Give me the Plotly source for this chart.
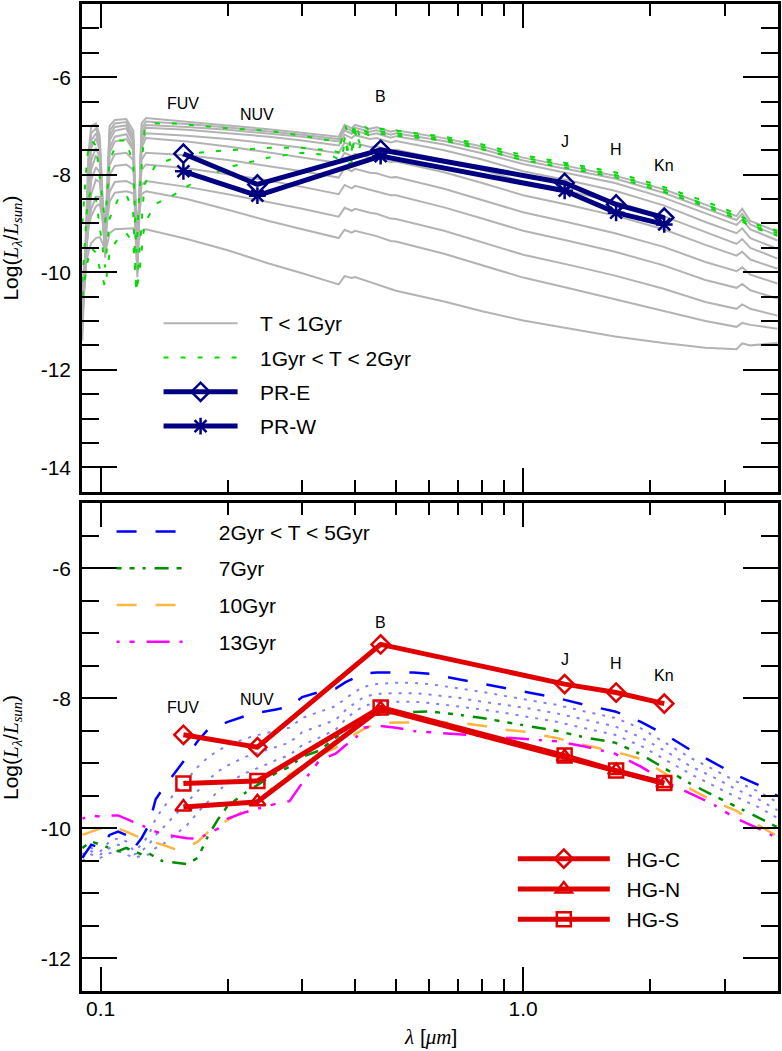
import math
import plotly.graph_objects as go
from plotly.subplots import make_subplots

# ---------------- top panel: young SSP spectra ----------------
gray_wave = [0.0905, 0.092, 0.0935, 0.095, 0.0975, 0.0995, 0.101, 0.1025, 0.1035, 0.105,
             0.108, 0.115, 0.1195, 0.121, 0.1222, 0.1235, 0.125, 0.128, 0.16, 0.20,
             0.25, 0.30, 0.366, 0.378, 0.393, 0.40, 0.434, 0.45, 0.486, 0.50,
             0.65, 0.80, 1.0, 1.3, 1.65, 2.15, 2.7, 3.2, 3.3, 3.45, 4.0]

gray_01 = [-11.4, -9.6, -7.6, -7.0, -6.95, -7.2, -8.4, -9.2, -8.3, -7.0, -6.88, -6.86, -7.1, -8.8, -9.6, -8.3, -6.95, -6.84,
           -6.91, -6.99, -7.07, -7.14, -7.22, -6.98, -7.05, -6.98, -7.06, -7.03, -7.12, -7.09, -7.25, -7.42, -7.65,
           -7.84, -8.02, -8.30, -8.62, -8.85, -8.70, -8.95, -9.17]
gray_02 = [-11.2, -9.8, -7.9, -7.15, -7.05, -7.3, -8.6, -9.4, -8.5, -7.1, -6.95, -6.92, -7.2, -9.0, -9.8, -8.5, -7.05, -6.91,
           -6.96, -7.03, -7.11, -7.18, -7.27, -7.03, -7.10, -7.04, -7.12, -7.09, -7.18, -7.15, -7.31, -7.48, -7.71,
           -7.90, -8.08, -8.37, -8.70, -8.93, -8.80, -9.02, -9.25]
gray_03 = [-11.0, -9.9, -8.1, -7.3, -7.15, -7.4, -8.7, -9.5, -8.7, -7.2, -7.02, -6.99, -7.3, -9.1, -9.9, -8.7, -7.15, -6.98,
           -7.02, -7.08, -7.15, -7.22, -7.32, -7.09, -7.16, -7.10, -7.18, -7.15, -7.24, -7.21, -7.38, -7.56, -7.78,
           -7.98, -8.17, -8.47, -8.80, -9.03, -8.92, -9.12, -9.35]
gray_04 = [-10.9, -10.0, -8.3, -7.45, -7.25, -7.5, -8.8, -9.6, -8.8, -7.3, -7.1, -7.05, -7.35, -9.2, -10.0, -8.8, -7.25, -7.04,
           -7.08, -7.15, -7.22, -7.30, -7.40, -7.18, -7.25, -7.19, -7.27, -7.25, -7.34, -7.31, -7.50, -7.69, -7.93,
           -8.13, -8.33, -8.63, -8.97, -9.20, -9.10, -9.30, -9.52]
gray_05 = [-10.8, -10.1, -8.6, -7.7, -7.45, -7.65, -8.9, -9.7, -8.9, -7.45, -7.22, -7.17, -7.45, -9.3, -10.1, -8.9, -7.35, -7.15,
           -7.20, -7.27, -7.36, -7.45, -7.56, -7.34, -7.41, -7.35, -7.43, -7.42, -7.51, -7.49, -7.70, -7.90, -8.15,
           -8.35, -8.56, -8.85, -9.18, -9.42, -9.32, -9.50, -9.72]
gray_06 = [-10.7, -10.0, -8.8, -7.9, -7.6, -7.75, -8.8, -9.5, -8.8, -7.55, -7.32, -7.27, -7.5, -9.0, -9.7, -8.7, -7.45, -7.25,
           -7.32, -7.42, -7.54, -7.64, -7.76, -7.55, -7.62, -7.57, -7.65, -7.65, -7.74, -7.73, -7.95, -8.17, -8.42,
           -8.63, -8.84, -9.12, -9.44, -9.66, -9.58, -9.74, -9.93]
gray_07 = [-10.6, -9.9, -8.9, -8.1, -7.85, -7.95, -8.7, -9.3, -8.8, -7.8, -7.58, -7.55, -7.7, -8.8, -9.3, -8.6, -7.7, -7.55,
           -7.60, -7.70, -7.82, -7.93, -8.06, -7.86, -7.93, -7.88, -7.96, -7.97, -8.06, -8.05, -8.29, -8.52, -8.77,
           -8.99, -9.20, -9.48, -9.79, -9.98, -9.90, -10.05, -10.23]
gray_08 = [-10.5, -9.8, -9.0, -8.4, -8.1, -8.15, -8.7, -9.2, -8.8, -8.0, -7.82, -7.79, -7.9, -8.7, -9.1, -8.6, -7.9, -7.79,
           -7.87, -7.99, -8.12, -8.25, -8.40, -8.21, -8.28, -8.23, -8.31, -8.33, -8.42, -8.42, -8.67, -8.90, -9.15,
           -9.37, -9.58, -9.86, -10.16, -10.32, -10.24, -10.37, -10.54]
gray_09 = [-10.4, -9.7, -9.1, -8.7, -8.45, -8.45, -8.8, -9.2, -8.9, -8.35, -8.15, -8.13, -8.2, -8.7, -9.0, -8.7, -8.2, -8.13,
           -8.25, -8.40, -8.56, -8.70, -8.86, -8.68, -8.74, -8.70, -8.78, -8.80, -8.90, -8.91, -9.15, -9.39, -9.64,
           -9.86, -10.07, -10.34, -10.61, -10.75, -10.66, -10.75, -10.89]
gray_10 = [-10.3, -9.6, -9.1, -8.85, -8.65, -8.6, -8.9, -9.2, -9.0, -8.55, -8.37, -8.34, -8.38, -8.8, -9.0, -8.8, -8.4, -8.34,
           -8.50, -8.72, -8.95, -9.12, -9.30, -9.13, -9.19, -9.15, -9.23, -9.26, -9.36, -9.37, -9.62, -9.86, -10.11,
           -10.34, -10.56, -10.80, -11.00, -11.12, -11.04, -11.08, -11.16]
gray_11 = [-10.6, -9.9, -9.6, -9.4, -9.3, -9.28, -9.4, -9.55, -9.45, -9.2, -9.12, -9.1, -9.1, -9.3, -9.4, -9.3, -9.15, -9.12,
           -9.32, -9.55, -9.82, -10.02, -10.25, -10.08, -10.12, -10.10, -10.20, -10.25, -10.35, -10.38, -10.60, -10.80, -10.99,
           -11.17, -11.32, -11.45, -11.55, -11.58, -11.46, -11.50, -11.45]

green_wave = [0.0905, 0.093, 0.095, 0.0975, 0.100, 0.1025, 0.105, 0.110, 0.115, 0.1195,
              0.1215, 0.1235, 0.127, 0.135, 0.15, 0.17, 0.20, 0.25, 0.30, 0.35,
              0.37, 0.38, 0.39, 0.395, 0.40, 0.41, 0.42, 0.434, 0.45, 0.50,
              0.65, 0.80, 1.0, 1.3, 1.65, 2.15, 2.7, 3.2, 3.5, 4.0]
green_a = [-9.0, -7.6, -7.3, -7.4, -8.2, -9.0, -7.7, -7.3, -7.3, -7.8, -9.6, -8.4, -7.1, -6.95, -6.95, -7.0, -7.05, -7.1,
           -7.2, -7.3, -7.35, -7.0, -7.4, -7.1, -6.95, -7.2, -7.0, -7.1, -7.05, -7.1, -7.22, -7.38, -7.6, -7.78, -7.95,
           -8.25, -8.55, -8.8, -9.0, -9.15]
green_b = [-10.2, -8.6, -8.3, -8.5, -9.2, -9.9, -8.9, -8.5, -8.4, -8.8, -10.4, -9.6, -8.2, -7.8, -7.65, -7.55, -7.5, -7.45,
           -7.45, -7.5, -7.55, -7.2, -7.8, -7.3, -7.05, -7.35, -7.1, -7.15, -7.1, -7.15, -7.27, -7.43, -7.65, -7.82, -8.0,
           -8.3, -8.62, -8.85, -9.05, -9.2]
green_c = [-10.5, -9.8, -9.5, -9.6, -10.0, -10.3, -9.6, -9.3, -9.2, -9.4, -10.4, -10.0, -9.0, -8.6, -8.4, -8.1, -7.85, -7.65,
           -7.55, -7.6, -7.7, -7.3, -7.95, -7.5, -7.1, -7.45, -7.15, -7.2, -7.15, -7.2, -7.3, -7.48, -7.7, -7.88, -8.05,
           -8.35, -8.65, -8.9, -9.08, -9.25]

# ---------------- bottom panel: old SSP spectra ----------------
sed_wave = [0.0905, 0.095, 0.10, 0.105, 0.11, 0.115, 0.12, 0.125, 0.13, 0.135,
            0.14, 0.15, 0.16, 0.17, 0.18, 0.19, 0.20, 0.22, 0.24, 0.26,
            0.28, 0.30, 0.33, 0.36, 0.38, 0.40, 0.42, 0.45, 0.50, 0.55,
            0.60, 0.70, 0.80, 0.90, 1.0, 1.2, 1.4, 1.65, 1.9, 2.2,
            2.5, 2.8, 3.2, 3.6, 4.0]
blue_2gyr = [-10.45, -10.25, -10.3, -10.1, -10.05, -10.1, -10.3, -10.15, -9.95, -9.55, -9.4, -9.15, -8.9, -8.65, -8.47,
             -8.42, -8.36, -8.27, -8.21, -8.17, -8.13, -7.98, -7.9, -7.85, -7.75, -7.68, -7.62, -7.6, -7.6, -7.6,
             -7.62, -7.7, -7.78, -7.84, -7.89, -7.99, -8.1, -8.2, -8.36, -8.58, -8.8, -8.97, -9.18, -9.33, -9.5]
lav_a = [-10.4, -10.3, -10.35, -10.2, -10.15, -10.2, -10.35, -10.25, -10.1, -9.85, -9.7, -9.45, -9.25, -9.05, -8.9,
         -8.8, -8.72, -8.62, -8.55, -8.5, -8.45, -8.3, -8.2, -8.12, -8.0, -7.9, -7.82, -7.78, -7.76, -7.76,
         -7.78, -7.84, -7.9, -7.96, -8.01, -8.1, -8.2, -8.3, -8.46, -8.7, -8.92, -9.08, -9.28, -9.43, -9.6]
lav_b = [-10.45, -10.35, -10.4, -10.3, -10.25, -10.3, -10.4, -10.35, -10.25, -10.1, -10.0, -9.8, -9.6, -9.42, -9.25,
         -9.12, -9.03, -8.9, -8.82, -8.75, -8.68, -8.52, -8.42, -8.33, -8.18, -8.07, -7.98, -7.93, -7.92, -7.92,
         -7.94, -7.99, -8.05, -8.1, -8.14, -8.23, -8.33, -8.43, -8.6, -8.83, -9.05, -9.2, -9.4, -9.55, -9.72]
lav_c = [-10.5, -10.4, -10.45, -10.38, -10.35, -10.4, -10.45, -10.42, -10.4, -10.3, -10.25, -10.1, -9.95, -9.75, -9.58,
         -9.42, -9.3, -9.15, -9.05, -8.95, -8.87, -8.72, -8.6, -8.48, -8.32, -8.2, -8.12, -8.06, -8.05, -8.05,
         -8.07, -8.12, -8.17, -8.22, -8.27, -8.36, -8.46, -8.56, -8.73, -8.96, -9.17, -9.33, -9.52, -9.67, -9.84]
green_7gyr = [-10.3, -10.2, -10.25, -10.3, -10.35, -10.3, -10.35, -10.4, -10.38, -10.45, -10.5, -10.52, -10.55, -10.45, -10.1,
              -9.85, -9.65, -9.45, -9.3, -9.15, -9.05, -8.9, -8.8, -8.6, -8.48, -8.4, -8.33, -8.25, -8.22, -8.21,
              -8.2, -8.25, -8.3, -8.36, -8.41, -8.5, -8.6, -8.68, -8.86, -9.1, -9.32, -9.48, -9.67, -9.83, -9.98]
orange_10gyr = [-10.1, -10.05, -10.0, -9.97, -10.0, -10.05, -10.1, -10.15, -10.2, -10.22, -10.25, -10.32, -10.3, -10.2, -10.05,
                -9.95, -9.87, -9.72, -9.55, -9.32, -9.17, -9.05, -8.87, -8.76, -8.66, -8.55, -8.47, -8.38, -8.37, -8.37,
                -8.37, -8.37, -8.42, -8.48, -8.51, -8.61, -8.72, -8.82, -8.93, -9.18, -9.4, -9.57, -9.73, -9.95, -10.12]
magenta_13gyr = [-9.85, -9.8, -9.82, -9.8, -9.8, -9.85, -9.9, -9.95, -10.0, -10.05, -10.08, -10.12, -10.15, -10.16, -10.08,
                 -10.0, -9.85, -9.75, -9.68, -9.62, -9.58, -9.3, -8.95, -8.85, -8.72, -8.62, -8.45, -8.42, -8.45, -8.5,
                 -8.52, -8.55, -8.57, -8.6, -8.62, -8.66, -8.74, -8.85, -9.05, -9.3, -9.47, -9.62, -9.85, -10.0, -10.15]

# ---------------- photometry ----------------
band_wave = [0.157, 0.235, 0.46, 1.254, 1.66, 2.158]
band_names = ["FUV", "NUV", "B", "J", "H", "Kn"]
pr_e = [-7.57, -8.20, -7.49, -8.17, -8.61, -8.88]
pr_w = [-7.93, -8.43, -7.62, -8.33, -8.78, -9.02]
hg_c = [-8.56, -8.75, -7.17, -7.78, -7.91, -8.08]
hg_n = [-9.67, -9.59, -8.16, -8.90, -9.11, -9.31]
hg_s = [-9.31, -9.27, -8.14, -8.88, -9.11, -9.30]

# tick labels (plain hyphen, as in the original figure)
top_yticks = [-14, -12, -10, -8, -6]
top_ytext = ["-14", "-12", "-10", "-8", "-6"]
bot_yticks = [-12, -10, -8, -6]
bot_ytext = ["-12", "-10", "-8", "-6"]
x_ticks = [0.1, 1.0]
x_text = ["0.1", "1.0"]
x_minor = [0.2, 0.3, 0.4, 0.5, 0.6, 0.7, 0.8, 0.9, 2, 3, 4]

FONT = "Liberation Sans, Arial, Helvetica, sans-serif"
SERIF = "Liberation Serif"
NAVY = "#000080"
RED = "#e00000"
PAD = "\u00a0"  # small lead-in so legend text sits further from the sample line

fig = make_subplots(rows=2, cols=1, shared_xaxes=True, vertical_spacing=0.0118)

# top panel spectra
for i, yv in enumerate([gray_01, gray_02, gray_03, gray_04, gray_05, gray_06,
                        gray_07, gray_08, gray_09, gray_10, gray_11]):
    fig.add_trace(go.Scatter(x=gray_wave, y=yv, mode="lines", name=PAD * 3 + "T < 1Gyr",
                             line=dict(color="#b3b3b3", width=2),
                             legend="legend", legendgroup="g1", showlegend=(i == 0)),
                  row=1, col=1)
for i, yv in enumerate([green_a, green_b, green_c]):
    fig.add_trace(go.Scatter(x=green_wave, y=yv, mode="lines", name=PAD * 3 + "1Gyr < T < 2Gyr",
                             line=dict(color="#00dd00", width=2, dash="5px,12px"),
                             legend="legend", legendgroup="g2", showlegend=(i == 0)),
                  row=1, col=1)

fig.add_trace(go.Scatter(x=band_wave, y=pr_e, mode="lines+markers", name=PAD * 3 + "PR-E",
                         line=dict(color=NAVY, width=5),
                         marker=dict(symbol="diamond-open", size=14, color=NAVY, line=dict(width=2.5)),
                         legend="legend", legendgroup="g3"), row=1, col=1)
fig.add_trace(go.Scatter(x=band_wave, y=pr_w, mode="lines+markers", name=PAD * 3 + "PR-W",
                         line=dict(color=NAVY, width=5),
                         marker=dict(symbol="asterisk-open", size=14, color=NAVY, line=dict(width=2.5, color=NAVY)),
                         legend="legend", legendgroup="g4"), row=1, col=1)

# bottom panel spectra
for i, yv in enumerate([lav_a, lav_b, lav_c]):
    fig.add_trace(go.Scatter(x=sed_wave, y=yv, mode="lines", name="2Gyr < T < 5Gyr",
                             line=dict(color="#7f7fff", width=2, dash="3px,7px"),
                             legend="legend2", legendgroup="b1", showlegend=False),
                  row=2, col=1)
fig.add_trace(go.Scatter(x=sed_wave, y=blue_2gyr, mode="lines", name=PAD * 5 + "2Gyr < T < 5Gyr",
                         line=dict(color="#0000ff", width=2.5, dash="20px,19px"),
                         legend="legend2", legendgroup="b1"), row=2, col=1)
fig.add_trace(go.Scatter(x=sed_wave, y=green_7gyr, mode="lines", name=PAD * 5 + "7Gyr",
                         line=dict(color="#008f00", width=2.5, dash="5px,8px,5px,8px,3px,9px,14px,8px"),
                         legend="legend2", legendgroup="b2"), row=2, col=1)
fig.add_trace(go.Scatter(x=sed_wave, y=orange_10gyr, mode="lines", name=PAD * 5 + "10Gyr",
                         line=dict(color="#ffb540", width=2.5, dash="20px,19px"),
                         legend="legend2", legendgroup="b3"), row=2, col=1)
fig.add_trace(go.Scatter(x=sed_wave, y=magenta_13gyr, mode="lines", name=PAD * 5 + "13Gyr",
                         line=dict(color="#ff00ff", width=2.5, dash="3px,10px,5px,12px,23px,10px"),
                         legend="legend2", legendgroup="b4"), row=2, col=1)

for name, yv, sym, grp in [("HG-C", hg_c, "diamond-open", "h1"),
                           ("HG-N", hg_n, "triangle-up-open", "h2"),
                           ("HG-S", hg_s, "square-open", "h3")]:
    fig.add_trace(go.Scatter(x=band_wave, y=yv, mode="lines+markers", name=PAD * 2 + name,
                             line=dict(color=RED, width=5),
                             marker=dict(symbol=sym, size=14, color=RED, line=dict(width=2.5)),
                             legend="legend3", legendgroup=grp), row=2, col=1)

# band labels
top_label_y = [-6.53, -6.77, -6.39, -7.32, -7.49, -7.81]
bot_label_y = [-8.14, -8.02, -6.84, -7.40, -7.46, -7.65]
for w, name, yt, yb in zip(band_wave, band_names, top_label_y, bot_label_y):
    fig.add_annotation(x=math.log10(w), y=yt, xref="x", yref="y", text=name, showarrow=False,
                       font=dict(size=16, color="black", family=FONT))
    fig.add_annotation(x=math.log10(w), y=yb, xref="x2", yref="y2", text=name, showarrow=False,
                       font=dict(size=16, color="black", family=FONT))

# axis titles
L = "<i><span style='font-family:%s'>L</span></i>" % SERIF
ytitle = ("Log(" + L + "<sub><i><span style='font-family:%s'>λ</span></i></sub>/" % SERIF
          + L + "<sub><i><span style='font-family:%s'>sun</span></i></sub>)" % SERIF)
for yc in [0.753, 0.247]:
    fig.add_annotation(x=-0.1009, y=yc, xref="paper", yref="paper", text=ytitle, showarrow=False,
                       xanchor="center", yanchor="middle",
                       textangle=-90, font=dict(size=21, color="black", family=FONT))
fig.add_annotation(x=0.5, y=-0.0465, xref="paper", yref="paper", showarrow=False,
                   xanchor="center", yanchor="middle",
                   text="<i><span style='font-family:%s'>λ</span></i> [<i><span style='font-family:%s'>μm</span></i>]" % (SERIF, SERIF),
                   font=dict(size=21, color="black", family=FONT))

axis_common = dict(showline=True, linecolor="black", linewidth=2.5, mirror="ticks",
                   ticks="inside", tickcolor="black", showgrid=False, zeroline=False,
                   tickfont=dict(size=21, color="black", family=FONT))
xminor = dict(ticks="inside", ticklen=12, tickwidth=2, tickcolor="black", showgrid=False,
              tickmode="array", tickvals=x_minor)
for r in [1, 2]:
    fig.update_xaxes(type="log", range=[-1.0441, 0.6033], tickmode="array",
                     tickvals=x_ticks, ticktext=x_text, ticklen=24, tickwidth=2,
                     minor=xminor, showticklabels=(r == 2), ticklabelstandoff=-3,
                     row=r, col=1, **axis_common)
yminor = dict(ticks="inside", ticklen=17, tickwidth=2, tickcolor="black", showgrid=False,
              tickmode="linear", tick0=-14, dtick=0.5)
fig.update_yaxes(range=[-14.5, -4.5], tickmode="array", tickvals=top_yticks, ticktext=top_ytext,
                 ticklen=35, tickwidth=2, minor=yminor,
                 ticklabelstandoff=4, row=1, col=1, **axis_common)
fig.update_yaxes(range=[-12.5, -5.0], tickmode="array", tickvals=bot_yticks, ticktext=bot_ytext,
                 ticklen=35, tickwidth=2, minor=yminor,
                 ticklabelstandoff=4, row=2, col=1, **axis_common)

leg_font = dict(size=21, color="black", family=FONT)
fig.update_layout(
    width=782, height=1051,
    margin=dict(l=82, r=1, t=1, b=60),
    paper_bgcolor="white", plot_bgcolor="white",
    font=dict(family=FONT, color="black"),
    legend=dict(x=0.110, y=0.697, xanchor="left", yanchor="top", font=leg_font, itemwidth=74,
                bgcolor="rgba(0,0,0,0)", traceorder="grouped", tracegroupgap=4),
    legend2=dict(x=0.0425, y=0.486, xanchor="left", yanchor="top", font=leg_font, itemwidth=68,
                 bgcolor="rgba(0,0,0,0)", traceorder="grouped", tracegroupgap=6.5),
    legend3=dict(x=0.619, y=0.1545, xanchor="left", yanchor="top", font=leg_font, itemwidth=92,
                 bgcolor="rgba(0,0,0,0)", traceorder="grouped", tracegroupgap=0),
)

# the page body has a default 8px margin; drop it so the figure fills the window
fig.write_html("out.html", config={"displayModeBar": False},
               post_script="document.body.style.margin='0px';")
